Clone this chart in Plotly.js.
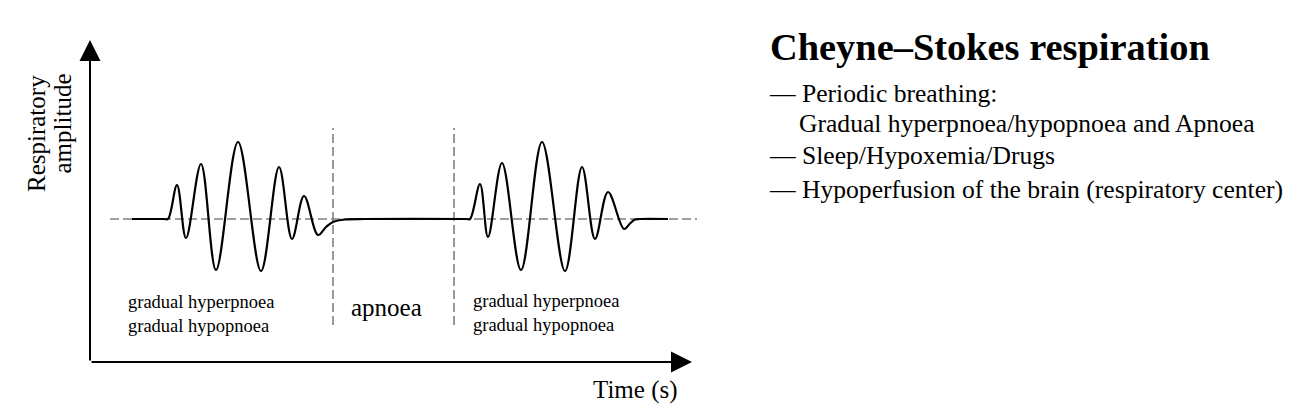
<!DOCTYPE html>
<html>
<head>
<meta charset="utf-8">
<script src="https://cdn.plot.ly/plotly-3.0.1.min.js"></script>
<style>
html, body { margin: 0; padding: 0; background: #ffffff; }
#chart { width: 1300px; height: 418px; }
</style>
</head>
<body>
<div id="chart"></div>
<script>
// ---- Data (time in s, amplitude in arbitrary units) ----
const timeS = [
  4.2, 7.4, 7.8, 8.7, 9.6, 11.1, 12.6, 14.8, 17.1,
  18.9, 20.2, 21.4, 22.8, 23.6, 24.3, 25.5, 27.5,
  37.6, 38.0, 39.0, 39.8, 41.2, 43.1, 45.2, 47.5,
  49.2, 50.5, 51.8, 53.4, 54.0, 54.5, 55.0, 57.8
];
const amplitude = [
  0, 0, 0, 3.4, -1.9, 5.5, -5.1, 7.7, -5.2,
  5.2, -2.0, 2.3, -1.6, -0.8, -0.3, -0.05, 0,
  0, 0, 3.5, -1.8, 5.6, -5.1, 7.7, -5.2,
  5.2, -2.0, 2.7, -1.0, -0.45, -0.05, 0, 0
];
const phaseBoundaries = [24.3, 36.4];      // s
const boundaryExtent = [-10.6, 9.1];       // amplitude span of the boundary markers
const baselineSpan = [2.0, 60.7];          // s
const axisOrigin = [0, -14.3];
const axisEnds = [60.2, 17.9];

const phaseLabels = ['gradual hyperpnoea<br>gradual hypopnoea', 'apnoea', 'gradual hyperpnoea<br>gradual hypopnoea'];
const xAxisLabel = 'Time (s)';
const yAxisLabelLines = ['Respiratory', 'amplitude'];
const titleText = 'Cheyne–Stokes respiration';
const bulletLines = [
  '— Periodic breathing:',
  'Gradual hyperpnoea/hypopnoea and Apnoea',
  '— Sleep/Hypoxemia/Drugs',
  '— Hypoperfusion of the brain (respiratory center)'
];

// ---- Layout helpers ----
const W = 1300, H = 418;
const M = { l: 80, r: 590, t: 30, b: 43 };
const PW = W - M.l - M.r, PH = H - M.t - M.b;
const px = x => (x - M.l) / PW;
const py = y => 1 - (y - M.t) / PH;
const SERIF = 'Liberation Serif, Times New Roman, Times, serif';
const GRAY = '#808080';

const traces = [];
// baseline
traces.push({
  x: baselineSpan, y: [0, 0], mode: 'lines', hoverinfo: 'skip',
  line: { color: GRAY, width: 1.6, dash: '9px,4px' }
});
// phase boundaries
phaseBoundaries.forEach(t => {
  traces.push({
    x: [t, t], y: boundaryExtent, mode: 'lines', hoverinfo: 'skip',
    line: { color: GRAY, width: 1.6, dash: '9px,4px' }
  });
});
// waveform
traces.push({
  x: timeS, y: amplitude, mode: 'lines', hoverinfo: 'skip',
  line: { color: '#000000', width: 2.2, shape: 'spline', smoothing: 1 }
});

const ann = [];
// axis arrows
ann.push({
  xref: 'x', yref: 'y', axref: 'x', ayref: 'y',
  x: axisOrigin[0], y: axisEnds[1], ax: axisOrigin[0], ay: axisOrigin[1],
  text: '', showarrow: true, arrowhead: 2, arrowsize: 2.1, arrowwidth: 2, arrowcolor: '#000'
});
ann.push({
  xref: 'x', yref: 'y', axref: 'x', ayref: 'y',
  x: axisEnds[0], y: axisOrigin[1], ax: axisOrigin[0], ay: axisOrigin[1],
  text: '', showarrow: true, arrowhead: 2, arrowsize: 2.1, arrowwidth: 2, arrowcolor: '#000'
});

function txt(text, x, y, size, opts) {
  return Object.assign({
    xref: 'paper', yref: 'paper', x: px(x), y: py(y), text: text, showarrow: false,
    xanchor: 'left', yanchor: 'middle', align: 'left',
    font: { family: SERIF, size: size, color: '#000' }
  }, opts || {});
}

ann.push(txt(phaseLabels[0], 126, 314, 18.5));
ann.push(txt(phaseLabels[1], 386, 307, 25, { xanchor: 'center', align: 'center' }));
ann.push(txt(phaseLabels[2], 471, 312.5, 18.5));
ann.push(txt(xAxisLabel, 680, 390, 25, { xanchor: 'right' }));
ann.push(txt(yAxisLabelLines[0], 36, 134, 25, { xanchor: 'center', align: 'center', textangle: -90 }));
ann.push(txt(yAxisLabelLines[1], 61.5, 124, 25, { xanchor: 'center', align: 'center', textangle: -90 }));

ann.push(txt('<b>' + titleText + '</b>', 768, 47, 38.4));
ann.push(txt(bulletLines[0], 767, 93.5, 25.6));
ann.push(txt(bulletLines[1], 797, 123, 25.6));
ann.push(txt(bulletLines[2], 767, 155.5, 25.6));
ann.push(txt(bulletLines[3], 767, 189, 25.6));

const layout = {
  width: W, height: H,
  margin: M,
  paper_bgcolor: '#ffffff', plot_bgcolor: '#ffffff',
  showlegend: false,
  xaxis: { range: [-1, 62], visible: false, fixedrange: true },
  yaxis: { range: [-15.6, 18.9], visible: false, fixedrange: true },
  annotations: ann,
  font: { family: SERIF }
};

Plotly.newPlot('chart', traces, layout, { displayModeBar: false, staticPlot: true });
</script>
</body>
</html>
